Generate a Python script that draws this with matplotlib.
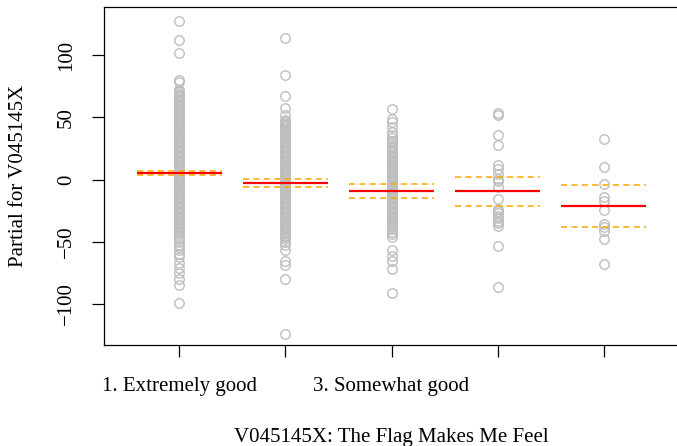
import matplotlib
matplotlib.use("Agg")
import matplotlib.pyplot as plt

plt.rcParams['font.family'] = ['Liberation Serif', 'DejaVu Serif']

# Factor levels (only every other label fits on the axis)
tick_labels = ["1. Extremely good", "", "3. Somewhat good", "", ""]
positions = [1, 2, 3, 4, 5]

# Fitted term effect and standard-error band per level
term_effect = [5.4, -2.6, -9.2, -9.5, -21.3]
band_upper = [7.2, 0.4, -3.9, 2.0, -4.2]
band_lower = [3.4, -5.8, -14.6, -21.0, -37.9]

# Partial residuals per level
resid_1 = [127.4, 111.8, 101.9, 79.8, 78.5,
           72, 71, 70, 69, 68, 67, 66, 65, 64, 63, 62, 61, 60, 59, 58, 57, 56,
           55, 54, 53, 52, 51, 50, 49, 48, 47, 46, 45, 44, 43, 42, 41, 40, 39,
           38, 37, 36, 35, 34, 33, 32, 31, 30, 29, 28, 27, 26, 25, 24, 23, 22,
           21, 20, 19, 18, 17, 16, 15, 14, 13, 12, 11, 10, 9, 8, 7, 6, 5, 4, 3,
           2, 1, 0, -1, -2, -3, -4, -5, -6, -7, -8, -9, -10, -11, -12, -13, -14,
           -15, -16, -17, -18, -19, -20, -21, -22, -23, -24, -25, -26, -27, -28,
           -29, -30, -31, -32, -33, -34, -35, -36, -37, -38, -39, -40, -41,
           -42.5, -44.0, -46.0, -48.0, -50.0, -52.5, -54.5, -57.0, -59.5, -62.5,
           -67.0, -71.0, -75.0, -80.0, -84.5, -98.9]
resid_2 = [113.4, 83.9, 66.9, 57.8, 51.6,
           48, 47, 46, 45, 44, 43, 42, 41, 40, 39, 38, 37, 36, 35, 34, 33, 32,
           31, 30, 29, 28, 27, 26, 25, 24, 23, 22, 21, 20, 19, 18, 17, 16, 15,
           14, 13, 12, 11, 10, 9, 8, 7, 6, 5, 4, 3, 2, 1, 0, -1, -2, -3, -4, -5,
           -6, -7, -8, -9, -10, -11, -12, -13, -14, -15, -16, -17, -18, -19, -20,
           -21, -22, -23, -24, -25, -26, -27, -28, -29, -30, -31, -32, -33, -34,
           -35, -36, -37, -38, -39, -40, -41, -42, -43, -44, -45, -46,
           -48.0, -50.0, -52.5, -56.5, -65.3, -68.8, -80.0, -124.0]
resid_3 = [56.5, 49.0, 46.2, 42.2, 38.2, 35.5, 33.0, 31.0, 29.0,
           27, 26, 25, 24, 23, 22, 21, 20, 19, 18, 17, 16, 15, 14, 13, 12, 11,
           10, 9, 8, 7, 6, 5, 4, 3, 2, 1, 0, -1, -2, -3, -4, -5, -6, -7, -8, -9,
           -10, -11, -12, -13, -14, -15, -16, -17, -18, -19, -20, -21, -22, -23,
           -24, -25, -26, -27, -28, -29, -30, -31, -32, -33, -34, -35, -36, -37,
           -38, -40.0, -42.0, -44.0, -46.5,
           -57.0, -61.3, -65.3, -72.0, -90.9]
resid_4 = [53.8, 51.6, 35.5, 28.0, 11.3, 8.6, 4.6, 0.6, -1.5, -6.2, -15.6,
           -23.5, -25.0, -27.0, -29.0, -31.0, -33.0, -35.0, -37.0, -53.0, -86.0]
resid_5 = [32.8, 9.9, -3.5, -13.7, -16.9, -24.5, -35.7, -38.4, -41.0, -47.9,
           -67.5]
residuals = [resid_1, resid_2, resid_3, resid_4, resid_5]

FS = 15

fig = plt.figure(figsize=(6.77, 4.46), dpi=100)
ax = fig.add_axes([0.1536, 0.2265, 0.8494, 0.7578])

for pos, vals in zip(positions, residuals):
    ax.plot([pos] * len(vals), vals, linestyle="none", marker="o",
            markersize=6.8, markerfacecolor="none", markeredgecolor="#bebebe",
            markeredgewidth=1.0, zorder=2)

half = 0.4
for pos, eff, up, lo in zip(positions, term_effect, band_upper, band_lower):
    ax.plot([pos - half, pos + half], [eff, eff], color="red", lw=1.6,
            solid_capstyle="butt", zorder=3)
    for v in (up, lo):
        ax.plot([pos - half, pos + half], [v, v], color="orange", lw=1.1,
                dashes=(4.0, 2.8), zorder=3)

ax.set_xlim(0.292, 5.708)
ax.set_ylim(-132.9, 138.6)

ax.set_xticks(positions)
ax.set_xticklabels(tick_labels, fontsize=FS)
ax.set_yticks([-100, -50, 0, 50, 100])
ax.set_yticklabels(["\u2212100", "\u221250", "0", "50", "100"], fontsize=FS,
                   rotation=90, va="center")
ax.tick_params(axis="both", direction="out", length=8.6, width=0.9, color="black")
ax.tick_params(axis="x", pad=14.3)
ax.tick_params(axis="y", pad=11.5)

for side in ("top", "bottom", "left", "right"):
    ax.spines[side].set_linewidth(0.9)

ax.set_ylabel("Partial for V045145X", fontsize=FS, labelpad=20.6)
ax.set_xlabel("V045145X: The Flag Makes Me Feel", fontsize=FS, labelpad=23)

fig.savefig("out.png", dpi=100)
